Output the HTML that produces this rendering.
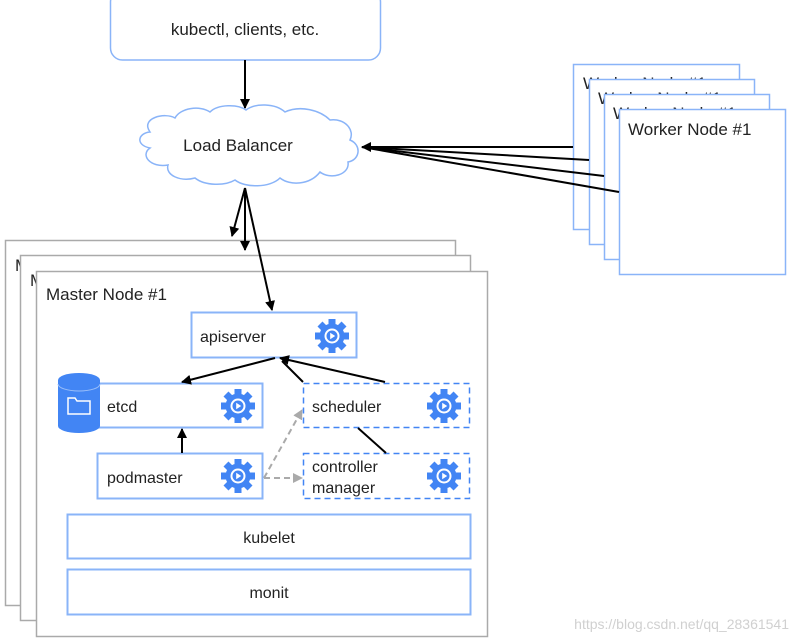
<!DOCTYPE html>
<html><head><meta charset="utf-8"><style>
html,body{margin:0;padding:0;background:#fff;}
svg{display:block;font-family:"Liberation Sans",sans-serif;}
</style></head><body>
<svg width="794" height="642" viewBox="0 0 794 642" xmlns="http://www.w3.org/2000/svg">
<defs>
<marker id="ah" markerWidth="10" markerHeight="10" refX="9" refY="5" orient="auto" markerUnits="userSpaceOnUse"><path d="M0,0 L10,5 L0,10 z" fill="#000"/></marker>
<marker id="ag" markerWidth="10" markerHeight="10" refX="9" refY="5" orient="auto" markerUnits="userSpaceOnUse"><path d="M0,0 L10,5 L0,10 z" fill="#aaa"/></marker>
<g id="gear">
<g fill="#4285f4">
<circle r="12.5"/>
<rect x="-3.5" y="-17" width="7" height="34"/>
<rect x="-3.5" y="-17" width="7" height="34" transform="rotate(45)"/>
<rect x="-3.5" y="-17" width="7" height="34" transform="rotate(90)"/>
<rect x="-3.5" y="-17" width="7" height="34" transform="rotate(135)"/>
</g>
<circle r="7.5" fill="#fff"/>
<circle r="5.5" fill="#4285f4"/>
<path d="M-1.8,-3.2 L3.2,0 L-1.8,3.2 z" fill="#fff"/>
</g>
</defs>

<rect x="110.5" y="-10" width="270" height="70" rx="12" fill="#fff" stroke="#8ab4f8" stroke-width="1.5"/>
<text x="245" y="35" font-size="17" text-anchor="middle" fill="#222">kubectl, clients, etc.</text>
<line x1="245" y1="60" x2="245" y2="108" stroke="#000" stroke-width="2" marker-end="url(#ah)"/>

<path d="M150,132 C140,118 165,112 175,118 C180,108 200,105 210,112 C218,104 238,104 246,110 C255,103 275,103 285,112 C300,105 320,110 330,120 C345,118 355,130 350,140 C362,145 360,160 348,162 C350,175 330,180 320,172 C310,185 290,186 280,178 C270,188 245,188 235,180 C225,186 205,186 195,178 C180,182 165,175 168,165 C150,168 140,155 150,148 C135,145 138,133 150,132 z" fill="#fff" stroke="#8ab4f8" stroke-width="1.5"/>
<text x="238" y="151" font-size="17" text-anchor="middle" fill="#222">Load Balancer</text>

<rect x="5.5" y="240.5" width="450" height="365" fill="#fff" stroke="#aaa" stroke-width="1.5"/>
<text x="15" y="271" font-size="17" fill="#222">Master Node #1</text>
<rect x="20.5" y="255.5" width="450" height="365" fill="#fff" stroke="#aaa" stroke-width="1.5"/>
<text x="30" y="286" font-size="17" fill="#222">Master Node #1</text>
<rect x="36.5" y="271.5" width="451" height="365" fill="#fff" stroke="#aaa" stroke-width="1.5"/>
<text x="46" y="300" font-size="17" fill="#222">Master Node #1</text>

<line x1="245" y1="188" x2="232" y2="236" stroke="#000" stroke-width="2" marker-end="url(#ah)"/>
<line x1="245" y1="188" x2="245" y2="250" stroke="#000" stroke-width="2" marker-end="url(#ah)"/>
<line x1="245" y1="188" x2="272" y2="310" stroke="#000" stroke-width="2" marker-end="url(#ah)"/>

<rect x="573.5" y="64.5" width="166" height="165" fill="#fff" stroke="#8ab4f8" stroke-width="1.5"/>
<text x="583" y="89" font-size="17" fill="#222">Worker Node #1</text>
<rect x="589.5" y="79.5" width="165" height="165" fill="#fff" stroke="#8ab4f8" stroke-width="1.5"/>
<text x="598" y="104" font-size="17" fill="#222">Worker Node #1</text>
<rect x="604.5" y="94.5" width="165" height="165" fill="#fff" stroke="#8ab4f8" stroke-width="1.5"/>
<text x="613" y="119" font-size="17" fill="#222">Worker Node #1</text>
<rect x="619.5" y="109.5" width="166" height="165" fill="#fff" stroke="#8ab4f8" stroke-width="1.5"/>
<text x="628" y="135" font-size="17" fill="#222">Worker Node #1</text>
<g stroke="#000" stroke-width="2">
<line x1="573" y1="147" x2="362" y2="147" marker-end="url(#ah)"/>
<line x1="589" y1="160" x2="362" y2="147"/>
<line x1="604" y1="176" x2="362" y2="147"/>
<line x1="619" y1="192" x2="362" y2="147"/>
</g>

<rect x="191.5" y="312.5" width="165" height="45" fill="#fff" stroke="#8ab4f8" stroke-width="2"/>
<text x="200" y="342" font-size="16" fill="#222">apiserver</text>
<use href="#gear" x="332" y="336"/>

<rect x="97.5" y="383.5" width="165" height="44" fill="#fff" stroke="#8ab4f8" stroke-width="2"/>
<text x="107" y="412" font-size="16" fill="#222">etcd</text>
<use href="#gear" x="238" y="406"/>
<path d="M58,380 L58,426 A21,7 0 0 0 100,426 L100,380 z" fill="#4285f4"/>
<ellipse cx="79" cy="380" rx="21" ry="7" fill="#4285f4"/>
<path d="M58,384 A21,7 0 0 0 100,384" fill="none" stroke="#9bbff9" stroke-width="1"/>
<path d="M68,398 L75,398 L77,401 L90,401 L90,414 L68,414 z" fill="none" stroke="#fff" stroke-width="1.5"/>

<rect x="303.5" y="383.5" width="166" height="44" fill="#fff" stroke="#4285f4" stroke-width="1.5" stroke-dasharray="6,4"/>
<text x="312" y="412" font-size="16" fill="#222">scheduler</text>
<use href="#gear" x="444" y="406"/>

<rect x="97.5" y="453.5" width="165" height="45" fill="#fff" stroke="#8ab4f8" stroke-width="2"/>
<text x="107" y="483" font-size="16" fill="#222">podmaster</text>
<use href="#gear" x="238" y="476"/>

<rect x="303.5" y="453.5" width="166" height="45" fill="#fff" stroke="#4285f4" stroke-width="1.5" stroke-dasharray="6,4"/>
<text x="312" y="472" font-size="16" fill="#222">controller</text>
<text x="312" y="493" font-size="16" fill="#222">manager</text>
<use href="#gear" x="444" y="476"/>

<rect x="67.5" y="514.5" width="403" height="44" fill="#fff" stroke="#8ab4f8" stroke-width="2"/>
<text x="269" y="543" font-size="16" text-anchor="middle" fill="#222">kubelet</text>
<rect x="67.5" y="569.5" width="403" height="45" fill="#fff" stroke="#8ab4f8" stroke-width="2"/>
<text x="269" y="598" font-size="16" text-anchor="middle" fill="#222">monit</text>

<g stroke="#000" stroke-width="2">
<line x1="275" y1="358" x2="182" y2="382" marker-end="url(#ah)"/>
<line x1="385" y1="382" x2="280" y2="358" marker-end="url(#ah)"/>
<line x1="303" y1="382" x2="282" y2="361"/>
<line x1="182" y1="453" x2="182" y2="429" marker-end="url(#ah)"/>
<line x1="358" y1="428" x2="386" y2="453"/>
</g>
<g stroke="#aaa" stroke-width="2" stroke-dasharray="6,4">
<line x1="264" y1="478" x2="302" y2="410" marker-end="url(#ag)"/>
<line x1="264" y1="478" x2="302" y2="478" marker-end="url(#ag)"/>
</g>

<text x="789" y="629" font-size="14" text-anchor="end" fill="#d0d0d0">https://blog.csdn.net/qq_28361541</text>
</svg>
</body></html>
